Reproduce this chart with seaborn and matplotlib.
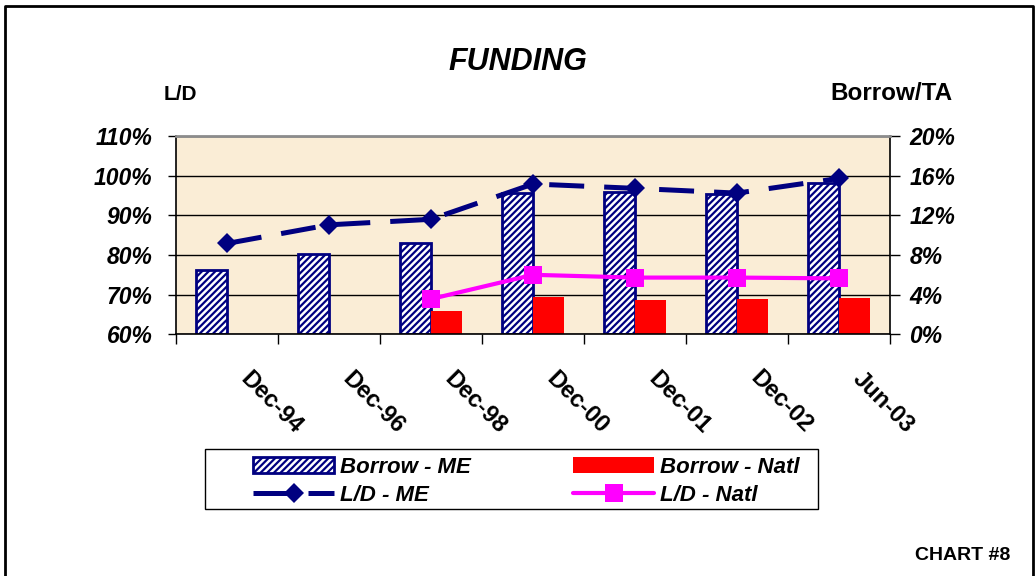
import numpy as np
import pandas as pd
import matplotlib
matplotlib.use("Agg")
import matplotlib.pyplot as plt
import matplotlib.transforms as mtransforms
from matplotlib.patches import Patch, Rectangle
from matplotlib.lines import Line2D
from matplotlib.ticker import FuncFormatter
import seaborn as sns

# ---- data -------------------------------------------------------------
categories = ["Dec-94", "Dec-96", "Dec-98", "Dec-00", "Dec-01", "Dec-02", "Jun-03"]
borrow_me = [6.5, 8.1, 9.2, 14.3, 14.4, 14.2, 15.3]          # Borrow/TA, %
borrow_natl = [np.nan, np.nan, 2.3, 3.8, 3.5, 3.6, 3.7]      # Borrow/TA, %
ld_me = [82.9, 87.6, 89.0, 97.9, 96.8, 95.6, 99.3]           # L/D, %
ld_natl = [np.nan, np.nan, 68.9, 75.0, 74.3, 74.3, 74.1]     # L/D, %
left_ticks = [60, 70, 80, 90, 100, 110]
right_ticks = [0, 4, 8, 12, 16, 20]
bar_names = ["Borrow - ME", "Borrow - Natl"]
line_names = ["L/D - ME", "L/D - Natl"]

NAVY = "#000080"
RED = "#FF0000"
MAGENTA = "#FF00FF"
PLOT_BG = "#FAEDD6"
HATCH = "/////"

sns.set_style("white")
plt.rcParams["font.family"] = ["Liberation Sans", "DejaVu Sans"]
plt.rcParams["text.color"] = "black"
plt.rcParams["axes.labelcolor"] = "black"
plt.rcParams["xtick.color"] = "black"
plt.rcParams["ytick.color"] = "black"
plt.rcParams["hatch.color"] = NAVY
plt.rcParams["hatch.linewidth"] = 1.6

W, H = 1035, 576
fig = plt.figure(figsize=(W / 100, H / 100), dpi=100)


def fx(px):
    return px / W


def fy(py):
    return 1 - py / H


# ---- axes: bars on the primary axes (right scale), lines on the twin ----
ax = fig.add_axes([fx(176), fy(334.3), fx(890) - fx(176), fy(136) - fy(334.3)])
ax.set_facecolor(PLOT_BG)

bars = pd.DataFrame({
    "period": categories * 2,
    "value": borrow_me + borrow_natl,
    "series": [bar_names[0]] * len(categories) + [bar_names[1]] * len(categories),
})
sns.barplot(data=bars, x="period", y="value", hue="series", order=categories,
            hue_order=bar_names, palette=["white", RED], saturation=1,
            width=0.6, gap=0, errorbar=None, legend=False, ax=ax)

for p in ax.containers[0]:
    p.set_facecolor("white")
    p.set_edgecolor(NAVY)
    p.set_linewidth(2.0)
    p.set_hatch(HATCH)
for p in ax.containers[1]:
    p.set_edgecolor("none")
    p.set_linewidth(0)

ax2 = ax.twinx()
lines = pd.DataFrame({
    "pos": list(range(len(categories))) * 2,
    "value": ld_me + ld_natl,
    "series": [line_names[0]] * len(categories) + [line_names[1]] * len(categories),
})
sns.lineplot(data=lines, x="pos", y="value", hue="series", style="series",
             hue_order=line_names, style_order=line_names,
             palette=[NAVY, MAGENTA], markers=["D", "s"], dashes=[(7, 4), ""],
             legend=False, ax=ax2)

me_line, natl_line = ax2.lines[0], ax2.lines[1]
me_line.set_linewidth(3.6)
me_line.set_markersize(10)
me_line.set_markeredgewidth(0)
me_line.set_markerfacecolor(NAVY)
natl_line.set_linewidth(3.0)
natl_line.set_markersize(12.5)
natl_line.set_markeredgewidth(0)
natl_line.set_markerfacecolor(MAGENTA)

# ---- scales -----------------------------------------------------------
ax.set_xlim(-0.5, len(categories) - 0.5)
ax.set_ylim(0, 20)
ax2.set_ylim(60, 110)
for a in (ax, ax2):
    a.set_xlabel("")
    a.set_ylabel("")

pct = FuncFormatter(lambda v, _: f"{v:.0f}%")
tick_font = dict(fontsize=16.5, fontweight="bold", fontstyle="italic", color="black")

# right scale (bars)
ax.yaxis.tick_right()
ax.set_yticks(right_ticks)
ax.yaxis.set_major_formatter(pct)
ax.tick_params(axis="y", which="major", right=True, left=False, labelright=True,
               labelleft=False, length=7, width=1, direction="out", pad=7,
               colors="black")
for lab in ax.get_yticklabels():
    lab.set(**tick_font)
ax.yaxis.grid(True, color="black", linewidth=1)
ax.set_axisbelow(True)

# left scale (lines)
ax2.yaxis.tick_left()
ax2.set_yticks(left_ticks)
ax2.yaxis.set_major_formatter(pct)
ax2.tick_params(axis="y", which="major", left=True, right=False, labelleft=True,
                labelright=False, length=6, width=1, direction="out", pad=11,
                colors="black")
for lab in ax2.get_yticklabels():
    lab.set(**tick_font)

# categories: boundary ticks, labels centred on each group
ax.set_xticks(np.arange(-0.5, len(categories), 1.0), labels=[""] * (len(categories) + 1))
ax.set_xticks(np.arange(len(categories)), labels=categories, minor=True)
ax.tick_params(axis="x", which="major", bottom=True, length=7, width=1,
               direction="out", colors="black")
ax.tick_params(axis="x", which="minor", bottom=True, length=0, pad=0,
               colors="black")
shift = mtransforms.ScaledTranslation(0.44, -0.68, fig.dpi_scale_trans)
for lab in ax.get_xticklabels(minor=True):
    lab.set(fontsize=17, fontweight="bold", rotation=-45, color="black",
            rotation_mode="anchor", ha="center", va="center")
    lab.set_transform(lab.get_transform() + shift)

# frame of the plot area
for s in ax.spines.values():
    s.set_visible(False)
for name, s in ax2.spines.items():
    s.set_visible(True)
    s.set_color("black")
    s.set_linewidth(1.2)
ax2.spines["top"].set_color("#8C8C8C")
ax2.spines["top"].set_linewidth(2.0)

# ---- legend -----------------------------------------------------------
handles = [
    Patch(facecolor="white", edgecolor=NAVY, hatch=HATCH, linewidth=2.0),
    Line2D([], [], color=NAVY, linewidth=3.6, dashes=(7, 4), marker="D",
           markersize=10, markeredgewidth=0),
    Patch(facecolor=RED, edgecolor="none"),
    Line2D([], [], color=MAGENTA, linewidth=3.0, marker="s",
           markersize=12.5, markeredgewidth=0),
]
labels = [bar_names[0], line_names[0], bar_names[1], line_names[1]]
leg = fig.legend(handles, labels, ncol=2, loc="upper left",
                 bbox_to_anchor=(fx(253), fy(457)), bbox_transform=fig.transFigure,
                 frameon=False, borderpad=0, borderaxespad=0, handlelength=3.65,
                 handleheight=0.75, handletextpad=0.27, columnspacing=4.6,
                 labelspacing=0.3,
                 prop=dict(family=["Liberation Sans", "DejaVu Sans"], size=16,
                           weight="bold", style="italic"))
for t in leg.get_texts():
    t.set_color("black")
fig.add_artist(Rectangle((fx(205), fy(509)), fx(818) - fx(205), fy(449) - fy(509),
                         transform=fig.transFigure, fill=False,
                         edgecolor="black", linewidth=1))

# ---- titles and captions ------------------------------------------------
fig.text(fx(518), fy(62), "FUNDING", ha="center", va="center", fontsize=22,
         fontweight="bold", fontstyle="italic")
fig.text(fx(180), fy(94), "L/D", ha="center", va="center", fontsize=15,
         fontweight="bold")
fig.text(fx(891), fy(93), "Borrow/TA", ha="center", va="center", fontsize=17.5,
         fontweight="bold")
fig.text(fx(963), fy(555), "CHART #8", ha="center", va="center", fontsize=14,
         fontweight="bold")

# outer border (open at the bottom)
fig.add_artist(Line2D([fx(5), fx(5), fx(1033), fx(1033)],
                      [fy(600), fy(6), fy(6), fy(600)],
                      transform=fig.transFigure, color="black", linewidth=2))

fig.savefig("out.png", dpi=100)
